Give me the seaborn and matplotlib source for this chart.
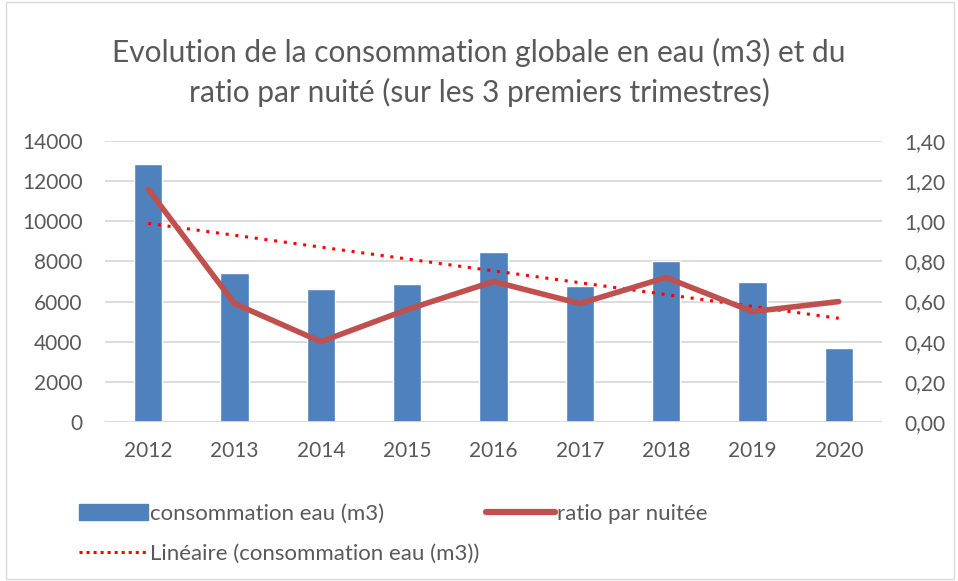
import numpy as np
import pandas as pd
import matplotlib
matplotlib.use("Agg")
import matplotlib.pyplot as plt
import seaborn as sns
from matplotlib.patches import Patch, Rectangle
from matplotlib.lines import Line2D

annees = ["2012", "2013", "2014", "2015", "2016", "2017", "2018", "2019", "2020"]
conso_eau = [12870, 7420, 6640, 6900, 8490, 6780, 8040, 6970, 3670]
ratio_nuitee = [1.16, 0.59, 0.40, 0.56, 0.70, 0.59, 0.72, 0.55, 0.60]

BLEU = "#4F81BD"
ROUGE = "#C0504D"
GRIS = "#595959"

sns.set_style("white")
plt.rcParams["font.family"] = ["Lato", "DejaVu Sans"]

df = pd.DataFrame({"annee": annees, "conso": conso_eau, "ratio": ratio_nuitee})
df["pos"] = np.arange(len(df))

fig = plt.figure(figsize=(9.58, 5.81), dpi=100)
ax = fig.add_axes([0.1096, 0.2737, 0.811, 0.4836])

sns.barplot(data=df, x="annee", y="conso", color=BLEU, width=0.33,
            saturation=1, ax=ax)
# tendance linéaire sur la consommation
sns.regplot(data=df, x="pos", y="conso", scatter=False, ci=None, truncate=True,
            line_kws={"color": "red", "ls": (0, (1, 2.2)), "lw": 2.2}, ax=ax)

ax2 = ax.twinx()
sns.lineplot(data=df, x="pos", y="ratio", color=ROUGE, lw=4, ax=ax2,
             solid_capstyle="round")

ax.set_xlim(-0.5, 8.5)
ax.set_ylim(0, 14000)
ax.set_yticks(range(0, 14001, 2000))
ax2.set_ylim(0, 1.4)
ax2.set_yticks(np.arange(0, 1.41, 0.2))
ax2.set_yticklabels([f"{v:.2f}".replace(".", ",") for v in np.arange(0, 1.41, 0.2)])
ax.set_xticks(range(len(annees)))
ax.set_xticklabels(annees)

ax.grid(axis="y", color="#D9D9D9", lw=1.3)
ax.set_axisbelow(True)
for a in (ax, ax2):
    for s in a.spines.values():
        s.set_visible(False)
    a.set_xlabel("")
    a.set_ylabel("")
    a.tick_params(length=0, labelsize=15, labelcolor=GRIS)
ax.tick_params(axis="y", pad=16)
ax2.tick_params(axis="y", pad=16)
ax.tick_params(axis="x", pad=14)
ax.axhline(0, color="#D9D9D9", lw=1.3)

fig.text(0.5, 0.876, "Evolution de la consommation globale en eau (m3) et du\n"
         "ratio par nuité (sur les 3 premiers trimestres)",
         ha="center", va="center", fontsize=21.5, color=GRIS, linespacing=1.45)

handles = [Patch(color=BLEU),
           Line2D([], [], color="red", ls=(0, (1, 1.3)), lw=2.2),
           Line2D([], [], color=ROUGE, lw=4.5, solid_capstyle="round")]
labels = ["consommation eau (m3)", "Linéaire (consommation eau (m3))",
          "ratio par nuitée"]
fig.legend(handles, labels, loc="upper left", bbox_to_anchor=(0.073, 0.148),
           ncol=2, frameon=False, fontsize=16, labelcolor=GRIS,
           handlelength=3.1, handletextpad=0.1, columnspacing=0.3,
           labelspacing=0.9, borderaxespad=0)

fig.add_artist(Rectangle((0.006, 0.004), 0.99, 0.992, transform=fig.transFigure,
                         fill=False, edgecolor="#D9D9D9", lw=1))

fig.savefig("out.png", dpi=100)
